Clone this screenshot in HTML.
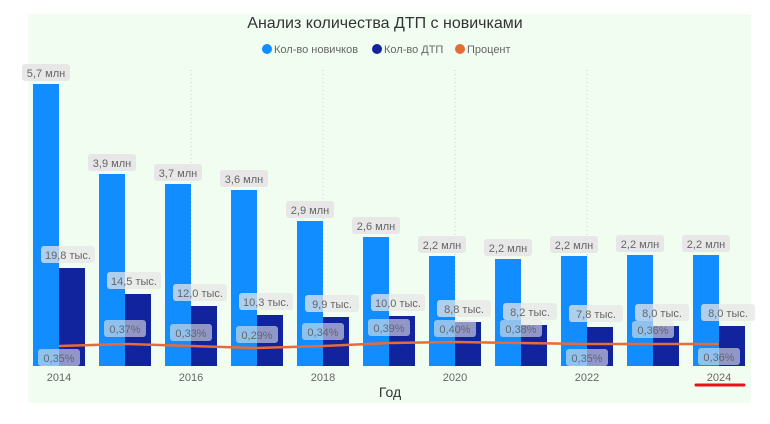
<!DOCTYPE html><html><head><meta charset="utf-8"><style>
body{margin:0;width:770px;height:419px;background:#fff;font-family:"Liberation Sans",sans-serif;overflow:hidden}
.l{fill:#118dff}.d{fill:#12239e}
.a{fill:#e6e6e6;fill-opacity:.95}.b{fill:#e6e6e6;fill-opacity:.75}.c{fill:#e6e6e6;fill-opacity:.6}
</style></head><body>
<svg width="770" height="419" xmlns="http://www.w3.org/2000/svg" font-family="Liberation Sans, sans-serif">
<rect x="28" y="14" width="723" height="389" fill="#f1fdf1"/>
<text x="385" y="28" text-anchor="middle" font-size="16" fill="#333">Анализ количества ДТП с новичками</text>
<g font-size="11" fill="#666">
<circle cx="267" cy="49" r="5" fill="#118dff"/><text x="274" y="53">Кол-во новичков</text>
<circle cx="377" cy="49" r="5" fill="#12239e"/><text x="384" y="53">Кол-во ДТП</text>
<circle cx="460" cy="49" r="5" fill="#e66c37"/><text x="467" y="53">Процент</text>
</g>
<g stroke="#ccc" stroke-dasharray="1,3">
<line x1="191" y1="70" x2="191" y2="366"/><line x1="323" y1="70" x2="323" y2="366"/><line x1="455" y1="70" x2="455" y2="366"/><line x1="587" y1="70" x2="587" y2="366"/>
</g>
<g>
<rect class="l" x="33" y="84" width="26" height="282"/><rect class="d" x="59" y="268" width="26" height="98"/>
<rect class="l" x="99" y="174" width="26" height="192"/><rect class="d" x="125" y="294" width="26" height="72"/>
<rect class="l" x="165" y="184" width="26" height="182"/><rect class="d" x="191" y="306" width="26" height="60"/>
<rect class="l" x="231" y="190" width="26" height="176"/><rect class="d" x="257" y="315" width="26" height="51"/>
<rect class="l" x="297" y="221" width="26" height="145"/><rect class="d" x="323" y="317" width="26" height="49"/>
<rect class="l" x="363" y="237" width="26" height="129"/><rect class="d" x="389" y="316" width="26" height="50"/>
<rect class="l" x="429" y="256" width="26" height="110"/><rect class="d" x="455" y="322" width="26" height="44"/>
<rect class="l" x="495" y="259" width="26" height="107"/><rect class="d" x="521" y="325" width="26" height="41"/>
<rect class="l" x="561" y="256" width="26" height="110"/><rect class="d" x="587" y="327" width="26" height="39"/>
<rect class="l" x="627" y="255" width="26" height="111"/><rect class="d" x="653" y="326" width="26" height="40"/>
<rect class="l" x="693" y="255" width="26" height="111"/><rect class="d" x="719" y="326" width="26" height="40"/>
</g>
<polyline fill="none" stroke="#e66c37" stroke-width="2.5" points="59,346 125,344 191,346 257,348 323,346 389,343 455,342 521,343 587,344 653,344 719,344"/>
<g font-size="11" fill="#666" text-anchor="middle">
<rect class="a" x="22" y="64" width="48" height="17" rx="3"/><text x="46" y="77">5,7 млн</text>
<rect class="a" x="88" y="154" width="48" height="17" rx="3"/><text x="112" y="167">3,9 млн</text>
<rect class="a" x="154" y="164" width="48" height="17" rx="3"/><text x="178" y="177">3,7 млн</text>
<rect class="a" x="220" y="170" width="48" height="17" rx="3"/><text x="244" y="183">3,6 млн</text>
<rect class="a" x="286" y="201" width="48" height="17" rx="3"/><text x="310" y="214">2,9 млн</text>
<rect class="a" x="352" y="217" width="48" height="17" rx="3"/><text x="376" y="230">2,6 млн</text>
<rect class="a" x="418" y="236" width="48" height="17" rx="3"/><text x="442" y="249">2,2 млн</text>
<rect class="a" x="484" y="239" width="48" height="17" rx="3"/><text x="508" y="252">2,2 млн</text>
<rect class="a" x="550" y="236" width="48" height="17" rx="3"/><text x="574" y="249">2,2 млн</text>
<rect class="a" x="616" y="235" width="48" height="17" rx="3"/><text x="640" y="248">2,2 млн</text>
<rect class="a" x="682" y="235" width="48" height="17" rx="3"/><text x="706" y="248">2,2 млн</text>

<rect class="b" x="41" y="246" width="54" height="17" rx="3"/><text x="68" y="259">19,8 тыс.</text>
<rect class="b" x="107" y="272" width="54" height="17" rx="3"/><text x="134" y="285">14,5 тыс.</text>
<rect class="b" x="173" y="284" width="54" height="17" rx="3"/><text x="200" y="297">12,0 тыс.</text>
<rect class="b" x="239" y="293" width="54" height="17" rx="3"/><text x="266" y="306">10,3 тыс.</text>
<rect class="b" x="305" y="295" width="54" height="17" rx="3"/><text x="332" y="308">9,9 тыс.</text>
<rect class="b" x="371" y="294" width="54" height="17" rx="3"/><text x="398" y="307">10,0 тыс.</text>
<rect class="b" x="437" y="300" width="54" height="17" rx="3"/><text x="464" y="313">8,8 тыс.</text>
<rect class="b" x="503" y="303" width="54" height="17" rx="3"/><text x="530" y="316">8,2 тыс.</text>
<rect class="b" x="569" y="305" width="54" height="17" rx="3"/><text x="596" y="318">7,8 тыс.</text>
<rect class="b" x="635" y="304" width="54" height="17" rx="3"/><text x="662" y="317">8,0 тыс.</text>
<rect class="b" x="701" y="304" width="54" height="17" rx="3"/><text x="728" y="317">8,0 тыс.</text>

<rect class="c" x="38" y="349" width="42" height="17" rx="3"/><text x="59" y="362">0,35%</text>
<rect class="c" x="104" y="320" width="42" height="17" rx="3"/><text x="125" y="333">0,37%</text>
<rect class="c" x="170" y="324" width="42" height="17" rx="3"/><text x="191" y="337">0,33%</text>
<rect class="c" x="236" y="326" width="42" height="17" rx="3"/><text x="257" y="339">0,29%</text>
<rect class="c" x="302" y="323" width="42" height="17" rx="3"/><text x="323" y="336">0,34%</text>
<rect class="c" x="368" y="319" width="42" height="17" rx="3"/><text x="389" y="332">0,39%</text>
<rect class="c" x="434" y="320" width="42" height="17" rx="3"/><text x="455" y="333">0,40%</text>
<rect class="c" x="500" y="320" width="42" height="17" rx="3"/><text x="521" y="333">0,38%</text>
<rect class="c" x="566" y="349" width="42" height="17" rx="3"/><text x="587" y="362">0,35%</text>
<rect class="c" x="632" y="321" width="42" height="17" rx="3"/><text x="653" y="334">0,36%</text>
<rect class="c" x="698" y="348" width="42" height="17" rx="3"/><text x="719" y="361">0,36%</text>
</g>
<g font-size="11" fill="#666" text-anchor="middle">
<text x="59" y="381">2014</text><text x="191" y="381">2016</text><text x="323" y="381">2018</text><text x="455" y="381">2020</text><text x="587" y="381">2022</text><text x="719" y="381">2024</text>
</g>
<text x="390" y="397" text-anchor="middle" font-size="14" fill="#333">Год</text>
<line x1="696" y1="385" x2="744" y2="385" stroke="#e8101a" stroke-width="3" stroke-linecap="round"/>
</svg>
</body></html>
